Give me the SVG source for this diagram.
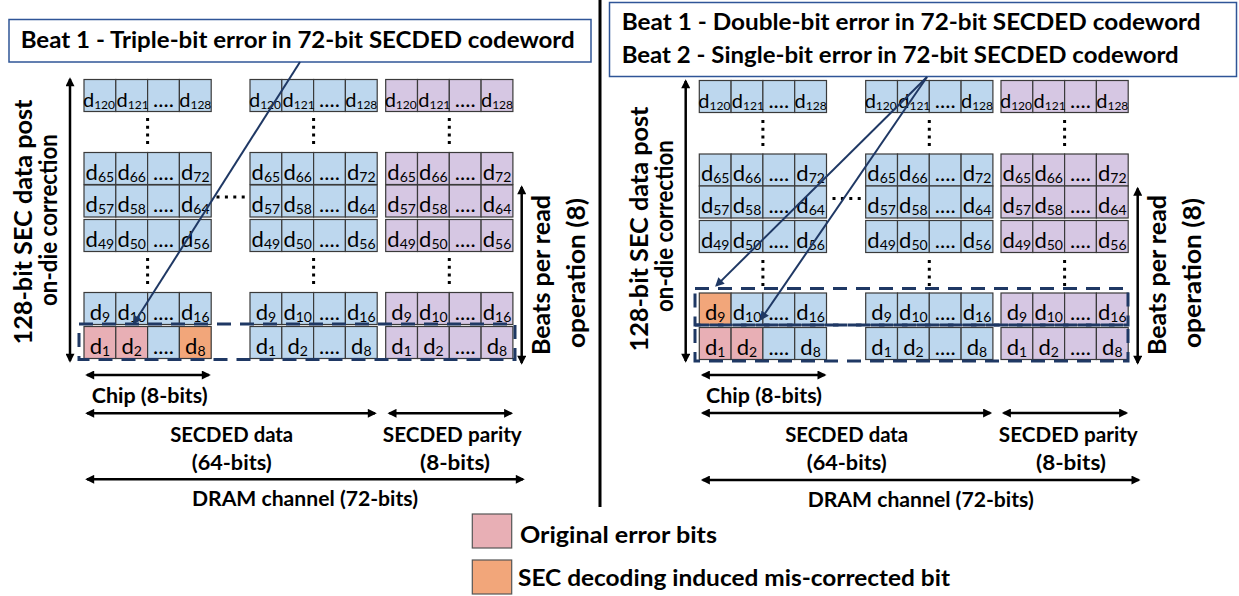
<svg xmlns="http://www.w3.org/2000/svg" width="1239" height="596" viewBox="0 0 1239 596">
<style>
.chip rect{stroke:#3a3a3a;stroke-width:1.2}
.b{fill:#bdd7ee}.p{fill:#d6c7e3}.e{fill:#e8afb5}.o{fill:#f2a67a}
.chip text{font-family:Lato,"Liberation Sans",sans-serif;font-size:22px;text-anchor:middle;fill:#000}
.chip text.t3{font-size:20px}
.s{font-size:14px}
.chip text.t3 .s{font-size:12px}
.lbl{font-family:Lato,"Liberation Sans",sans-serif;font-weight:bold;font-size:21px;fill:#000}
.mid{text-anchor:middle}
.rot{font-size:24px;text-anchor:middle}
.ttl{font-size:22px}
.ar{stroke:#000;stroke-width:2.5;fill:none;marker-start:url(#ah);marker-end:url(#ah)}
.nv{stroke:#1f3864;stroke-width:2;fill:none;marker-end:url(#nh)}
.dash{fill:none;stroke:#1f3864;stroke-width:3;stroke-dasharray:14 9}
.dots{stroke:#000;stroke-width:3;stroke-dasharray:3 4.7}
.hdots{stroke:#000;stroke-width:3;stroke-dasharray:3 5.4}
.box{fill:#fff;stroke:#2f5597;stroke-width:1.5}
</style>
<defs>
<marker id="ah" viewBox="0 0 10 10" refX="8" refY="5" markerWidth="11" markerHeight="9" markerUnits="userSpaceOnUse" orient="auto-start-reverse"><path d="M0,0 L10,5 L0,10 z" fill="#000"/></marker>
<marker id="nh" viewBox="0 0 10 10" refX="8" refY="5" markerWidth="11" markerHeight="9" markerUnits="userSpaceOnUse" orient="auto"><path d="M0,0 L10,5 L0,10 z" fill="#1f3864"/></marker>
</defs>
<rect width="1239" height="596" fill="#fff"/>

<!-- Left panel -->
<g id="left-title"><rect class="box" x="9" y="19.5" width="582" height="42.5"/><text class="lbl ttl" x="20.7" y="48" textLength="554" lengthAdjust="spacingAndGlyphs">Beat 1 - Triple-bit error in 72-bit SECDED codeword</text></g>

<g id="left-chip1" class="chip" transform="translate(84,0)">
<g transform="translate(0,79.5)"><rect class="b" x="0" width="31.8" height="32"/><rect class="b" x="31.8" width="31.8" height="32"/><rect class="b" x="63.6" width="31.8" height="32"/><rect class="b" x="95.4" width="31.8" height="32"/><text class="t3" x="15" y="27">d<tspan class="s" dy="2">120</tspan></text><text class="t3" x="48.6" y="27">d<tspan class="s" dy="2">121</tspan></text><text x="79.5" y="27">....</text><text class="t3" x="111.3" y="27">d<tspan class="s" dy="2">128</tspan></text></g>
<g transform="translate(0,152.5)"><rect class="b" x="0" width="31.8" height="32"/><rect class="b" x="31.8" width="31.8" height="32"/><rect class="b" x="63.6" width="31.8" height="32"/><rect class="b" x="95.4" width="31.8" height="32"/><text x="15.9" y="27">d<tspan class="s" dy="2">65</tspan></text><text x="47.7" y="27">d<tspan class="s" dy="2">66</tspan></text><text x="79.5" y="27">....</text><text x="111.3" y="27">d<tspan class="s" dy="2">72</tspan></text></g>
<g transform="translate(0,185)"><rect class="b" x="0" width="31.8" height="32"/><rect class="b" x="31.8" width="31.8" height="32"/><rect class="b" x="63.6" width="31.8" height="32"/><rect class="b" x="95.4" width="31.8" height="32"/><text x="15.9" y="27">d<tspan class="s" dy="2">57</tspan></text><text x="47.7" y="27">d<tspan class="s" dy="2">58</tspan></text><text x="79.5" y="27">....</text><text x="111.3" y="27">d<tspan class="s" dy="2">64</tspan></text></g>
<g transform="translate(0,219.5)"><rect class="b" x="0" width="31.8" height="32"/><rect class="b" x="31.8" width="31.8" height="32"/><rect class="b" x="63.6" width="31.8" height="32"/><rect class="b" x="95.4" width="31.8" height="32"/><text x="15.9" y="27">d<tspan class="s" dy="2">49</tspan></text><text x="47.7" y="27">d<tspan class="s" dy="2">50</tspan></text><text x="79.5" y="27">....</text><text x="111.3" y="27">d<tspan class="s" dy="2">56</tspan></text></g>
<g transform="translate(0,292.5)"><rect class="b" x="0" width="31.8" height="32"/><rect class="b" x="31.8" width="31.8" height="32"/><rect class="b" x="63.6" width="31.8" height="32"/><rect class="b" x="95.4" width="31.8" height="32"/><text x="15.9" y="27">d<tspan class="s" dy="2">9</tspan></text><text x="47.7" y="27">d<tspan class="s" dy="2">10</tspan></text><text x="79.5" y="27">....</text><text x="111.3" y="27">d<tspan class="s" dy="2">16</tspan></text></g>
<g transform="translate(0,326.5)"><rect class="e" x="0" width="31.8" height="32"/><rect class="e" x="31.8" width="31.8" height="32"/><rect class="b" x="63.6" width="31.8" height="32"/><rect class="o" x="95.4" width="31.8" height="32"/><text x="15.9" y="27">d<tspan class="s" dy="2">1</tspan></text><text x="47.7" y="27">d<tspan class="s" dy="2">2</tspan></text><text x="79.5" y="27">....</text><text x="111.3" y="27">d<tspan class="s" dy="2">8</tspan></text></g>
</g>

<g id="left-chip2" class="chip" transform="translate(250,0)">
<g transform="translate(0,79.5)"><rect class="b" x="0" width="31.8" height="32"/><rect class="b" x="31.8" width="31.8" height="32"/><rect class="b" x="63.6" width="31.8" height="32"/><rect class="b" x="95.4" width="31.8" height="32"/><text class="t3" x="15" y="27">d<tspan class="s" dy="2">120</tspan></text><text class="t3" x="48.6" y="27">d<tspan class="s" dy="2">121</tspan></text><text x="79.5" y="27">....</text><text class="t3" x="111.3" y="27">d<tspan class="s" dy="2">128</tspan></text></g>
<g transform="translate(0,152.5)"><rect class="b" x="0" width="31.8" height="32"/><rect class="b" x="31.8" width="31.8" height="32"/><rect class="b" x="63.6" width="31.8" height="32"/><rect class="b" x="95.4" width="31.8" height="32"/><text x="15.9" y="27">d<tspan class="s" dy="2">65</tspan></text><text x="47.7" y="27">d<tspan class="s" dy="2">66</tspan></text><text x="79.5" y="27">....</text><text x="111.3" y="27">d<tspan class="s" dy="2">72</tspan></text></g>
<g transform="translate(0,185)"><rect class="b" x="0" width="31.8" height="32"/><rect class="b" x="31.8" width="31.8" height="32"/><rect class="b" x="63.6" width="31.8" height="32"/><rect class="b" x="95.4" width="31.8" height="32"/><text x="15.9" y="27">d<tspan class="s" dy="2">57</tspan></text><text x="47.7" y="27">d<tspan class="s" dy="2">58</tspan></text><text x="79.5" y="27">....</text><text x="111.3" y="27">d<tspan class="s" dy="2">64</tspan></text></g>
<g transform="translate(0,219.5)"><rect class="b" x="0" width="31.8" height="32"/><rect class="b" x="31.8" width="31.8" height="32"/><rect class="b" x="63.6" width="31.8" height="32"/><rect class="b" x="95.4" width="31.8" height="32"/><text x="15.9" y="27">d<tspan class="s" dy="2">49</tspan></text><text x="47.7" y="27">d<tspan class="s" dy="2">50</tspan></text><text x="79.5" y="27">....</text><text x="111.3" y="27">d<tspan class="s" dy="2">56</tspan></text></g>
<g transform="translate(0,292.5)"><rect class="b" x="0" width="31.8" height="32"/><rect class="b" x="31.8" width="31.8" height="32"/><rect class="b" x="63.6" width="31.8" height="32"/><rect class="b" x="95.4" width="31.8" height="32"/><text x="15.9" y="27">d<tspan class="s" dy="2">9</tspan></text><text x="47.7" y="27">d<tspan class="s" dy="2">10</tspan></text><text x="79.5" y="27">....</text><text x="111.3" y="27">d<tspan class="s" dy="2">16</tspan></text></g>
<g transform="translate(0,326.5)"><rect class="b" x="0" width="31.8" height="32"/><rect class="b" x="31.8" width="31.8" height="32"/><rect class="b" x="63.6" width="31.8" height="32"/><rect class="b" x="95.4" width="31.8" height="32"/><text x="15.9" y="27">d<tspan class="s" dy="2">1</tspan></text><text x="47.7" y="27">d<tspan class="s" dy="2">2</tspan></text><text x="79.5" y="27">....</text><text x="111.3" y="27">d<tspan class="s" dy="2">8</tspan></text></g>
</g>

<g id="left-parity" class="chip" transform="translate(385.7,0)">
<g transform="translate(0,79.5)"><rect class="p" x="0" width="31.8" height="32"/><rect class="p" x="31.8" width="31.8" height="32"/><rect class="p" x="63.6" width="31.8" height="32"/><rect class="p" x="95.4" width="31.8" height="32"/><text class="t3" x="15" y="27">d<tspan class="s" dy="2">120</tspan></text><text class="t3" x="48.6" y="27">d<tspan class="s" dy="2">121</tspan></text><text x="79.5" y="27">....</text><text class="t3" x="111.3" y="27">d<tspan class="s" dy="2">128</tspan></text></g>
<g transform="translate(0,152.5)"><rect class="p" x="0" width="31.8" height="32"/><rect class="p" x="31.8" width="31.8" height="32"/><rect class="p" x="63.6" width="31.8" height="32"/><rect class="p" x="95.4" width="31.8" height="32"/><text x="15.9" y="27">d<tspan class="s" dy="2">65</tspan></text><text x="47.7" y="27">d<tspan class="s" dy="2">66</tspan></text><text x="79.5" y="27">....</text><text x="111.3" y="27">d<tspan class="s" dy="2">72</tspan></text></g>
<g transform="translate(0,185)"><rect class="p" x="0" width="31.8" height="32"/><rect class="p" x="31.8" width="31.8" height="32"/><rect class="p" x="63.6" width="31.8" height="32"/><rect class="p" x="95.4" width="31.8" height="32"/><text x="15.9" y="27">d<tspan class="s" dy="2">57</tspan></text><text x="47.7" y="27">d<tspan class="s" dy="2">58</tspan></text><text x="79.5" y="27">....</text><text x="111.3" y="27">d<tspan class="s" dy="2">64</tspan></text></g>
<g transform="translate(0,219.5)"><rect class="p" x="0" width="31.8" height="32"/><rect class="p" x="31.8" width="31.8" height="32"/><rect class="p" x="63.6" width="31.8" height="32"/><rect class="p" x="95.4" width="31.8" height="32"/><text x="15.9" y="27">d<tspan class="s" dy="2">49</tspan></text><text x="47.7" y="27">d<tspan class="s" dy="2">50</tspan></text><text x="79.5" y="27">....</text><text x="111.3" y="27">d<tspan class="s" dy="2">56</tspan></text></g>
<g transform="translate(0,292.5)"><rect class="p" x="0" width="31.8" height="32"/><rect class="p" x="31.8" width="31.8" height="32"/><rect class="p" x="63.6" width="31.8" height="32"/><rect class="p" x="95.4" width="31.8" height="32"/><text x="15.9" y="27">d<tspan class="s" dy="2">9</tspan></text><text x="47.7" y="27">d<tspan class="s" dy="2">10</tspan></text><text x="79.5" y="27">....</text><text x="111.3" y="27">d<tspan class="s" dy="2">16</tspan></text></g>
<g transform="translate(0,326.5)"><rect class="p" x="0" width="31.8" height="32"/><rect class="p" x="31.8" width="31.8" height="32"/><rect class="p" x="63.6" width="31.8" height="32"/><rect class="p" x="95.4" width="31.8" height="32"/><text x="15.9" y="27">d<tspan class="s" dy="2">1</tspan></text><text x="47.7" y="27">d<tspan class="s" dy="2">2</tspan></text><text x="79.5" y="27">....</text><text x="111.3" y="27">d<tspan class="s" dy="2">8</tspan></text></g>
</g>

<g id="left-dots">
<line class="dots" x1="147.6" y1="118" x2="147.6" y2="145"/><line class="dots" x1="147.6" y1="258" x2="147.6" y2="285"/>
<line class="dots" x1="313.6" y1="118" x2="313.6" y2="145"/><line class="dots" x1="313.6" y1="258" x2="313.6" y2="285"/>
<line class="dots" x1="449.3" y1="118" x2="449.3" y2="145"/><line class="dots" x1="449.3" y1="258" x2="449.3" y2="285"/>
<line class="hdots" x1="216.5" y1="197" x2="245" y2="197"/>
</g>

<g id="left-labels" class="lbl">
<text class="rot" transform="translate(32,222) rotate(-90)" textLength="245" lengthAdjust="spacingAndGlyphs">128-bit SEC data post</text>
<text class="rot" transform="translate(57,220) rotate(-90)" textLength="172" lengthAdjust="spacingAndGlyphs">on-die correction</text>
<text class="rot" transform="translate(550,275) rotate(-90)" textLength="160" lengthAdjust="spacingAndGlyphs">Beats per read</text>
<text class="rot" transform="translate(585,273) rotate(-90)" textLength="150" lengthAdjust="spacingAndGlyphs">operation (8)</text>
<text x="91.7" y="403" textLength="116" lengthAdjust="spacingAndGlyphs">Chip (8-bits)</text>
<text class="mid" x="231.7" y="441.5" textLength="123" lengthAdjust="spacingAndGlyphs">SECDED data</text>
<text class="mid" x="231.7" y="470" textLength="80" lengthAdjust="spacingAndGlyphs">(64-bits)</text>
<text class="mid" x="452.3" y="441.5" textLength="139" lengthAdjust="spacingAndGlyphs">SECDED parity</text>
<text class="mid" x="455" y="470" textLength="70" lengthAdjust="spacingAndGlyphs">(8-bits)</text>
<text class="mid" x="305" y="506" textLength="226" lengthAdjust="spacingAndGlyphs">DRAM channel (72-bits)</text>
</g>

<!-- Right panel -->
<g id="right-title"><rect class="box" x="609.5" y="2.5" width="627" height="74"/>
<text class="lbl ttl" x="621.7" y="29.5" textLength="579" lengthAdjust="spacingAndGlyphs">Beat 1 - Double-bit error in 72-bit SECDED codeword</text>
<text class="lbl ttl" x="621.7" y="62.5" textLength="557" lengthAdjust="spacingAndGlyphs">Beat 2 - Single-bit error in 72-bit SECDED codeword</text></g>

<g id="right-chip1" class="chip" transform="translate(699.3,0)">
<g transform="translate(0,80.5)"><rect class="b" x="0" width="31.8" height="32"/><rect class="b" x="31.8" width="31.8" height="32"/><rect class="b" x="63.6" width="31.8" height="32"/><rect class="b" x="95.4" width="31.8" height="32"/><text class="t3" x="15" y="27">d<tspan class="s" dy="2">120</tspan></text><text class="t3" x="48.6" y="27">d<tspan class="s" dy="2">121</tspan></text><text x="79.5" y="27">....</text><text class="t3" x="111.3" y="27">d<tspan class="s" dy="2">128</tspan></text></g>
<g transform="translate(0,154)"><rect class="b" x="0" width="31.8" height="32"/><rect class="b" x="31.8" width="31.8" height="32"/><rect class="b" x="63.6" width="31.8" height="32"/><rect class="b" x="95.4" width="31.8" height="32"/><text x="15.9" y="27">d<tspan class="s" dy="2">65</tspan></text><text x="47.7" y="27">d<tspan class="s" dy="2">66</tspan></text><text x="79.5" y="27">....</text><text x="111.3" y="27">d<tspan class="s" dy="2">72</tspan></text></g>
<g transform="translate(0,186)"><rect class="b" x="0" width="31.8" height="32"/><rect class="b" x="31.8" width="31.8" height="32"/><rect class="b" x="63.6" width="31.8" height="32"/><rect class="b" x="95.4" width="31.8" height="32"/><text x="15.9" y="27">d<tspan class="s" dy="2">57</tspan></text><text x="47.7" y="27">d<tspan class="s" dy="2">58</tspan></text><text x="79.5" y="27">....</text><text x="111.3" y="27">d<tspan class="s" dy="2">64</tspan></text></g>
<g transform="translate(0,220.5)"><rect class="b" x="0" width="31.8" height="32"/><rect class="b" x="31.8" width="31.8" height="32"/><rect class="b" x="63.6" width="31.8" height="32"/><rect class="b" x="95.4" width="31.8" height="32"/><text x="15.9" y="27">d<tspan class="s" dy="2">49</tspan></text><text x="47.7" y="27">d<tspan class="s" dy="2">50</tspan></text><text x="79.5" y="27">....</text><text x="111.3" y="27">d<tspan class="s" dy="2">56</tspan></text></g>
<g transform="translate(0,293)"><rect class="o" x="0" width="31.8" height="32"/><rect class="b" x="31.8" width="31.8" height="32"/><rect class="b" x="63.6" width="31.8" height="32"/><rect class="b" x="95.4" width="31.8" height="32"/><text x="15.9" y="27">d<tspan class="s" dy="2">9</tspan></text><text x="47.7" y="27">d<tspan class="s" dy="2">10</tspan></text><text x="79.5" y="27">....</text><text x="111.3" y="27">d<tspan class="s" dy="2">16</tspan></text></g>
<g transform="translate(0,327.5)"><rect class="e" x="0" width="31.8" height="32"/><rect class="e" x="31.8" width="31.8" height="32"/><rect class="b" x="63.6" width="31.8" height="32"/><rect class="b" x="95.4" width="31.8" height="32"/><text x="15.9" y="27">d<tspan class="s" dy="2">1</tspan></text><text x="47.7" y="27">d<tspan class="s" dy="2">2</tspan></text><text x="79.5" y="27">....</text><text x="111.3" y="27">d<tspan class="s" dy="2">8</tspan></text></g>
</g>

<g id="right-chip2" class="chip" transform="translate(865.7,0)">
<g transform="translate(0,80.5)"><rect class="b" x="0" width="31.8" height="32"/><rect class="b" x="31.8" width="31.8" height="32"/><rect class="b" x="63.6" width="31.8" height="32"/><rect class="b" x="95.4" width="31.8" height="32"/><text class="t3" x="15" y="27">d<tspan class="s" dy="2">120</tspan></text><text class="t3" x="48.6" y="27">d<tspan class="s" dy="2">121</tspan></text><text x="79.5" y="27">....</text><text class="t3" x="111.3" y="27">d<tspan class="s" dy="2">128</tspan></text></g>
<g transform="translate(0,154)"><rect class="b" x="0" width="31.8" height="32"/><rect class="b" x="31.8" width="31.8" height="32"/><rect class="b" x="63.6" width="31.8" height="32"/><rect class="b" x="95.4" width="31.8" height="32"/><text x="15.9" y="27">d<tspan class="s" dy="2">65</tspan></text><text x="47.7" y="27">d<tspan class="s" dy="2">66</tspan></text><text x="79.5" y="27">....</text><text x="111.3" y="27">d<tspan class="s" dy="2">72</tspan></text></g>
<g transform="translate(0,186)"><rect class="b" x="0" width="31.8" height="32"/><rect class="b" x="31.8" width="31.8" height="32"/><rect class="b" x="63.6" width="31.8" height="32"/><rect class="b" x="95.4" width="31.8" height="32"/><text x="15.9" y="27">d<tspan class="s" dy="2">57</tspan></text><text x="47.7" y="27">d<tspan class="s" dy="2">58</tspan></text><text x="79.5" y="27">....</text><text x="111.3" y="27">d<tspan class="s" dy="2">64</tspan></text></g>
<g transform="translate(0,220.5)"><rect class="b" x="0" width="31.8" height="32"/><rect class="b" x="31.8" width="31.8" height="32"/><rect class="b" x="63.6" width="31.8" height="32"/><rect class="b" x="95.4" width="31.8" height="32"/><text x="15.9" y="27">d<tspan class="s" dy="2">49</tspan></text><text x="47.7" y="27">d<tspan class="s" dy="2">50</tspan></text><text x="79.5" y="27">....</text><text x="111.3" y="27">d<tspan class="s" dy="2">56</tspan></text></g>
<g transform="translate(0,293)"><rect class="b" x="0" width="31.8" height="32"/><rect class="b" x="31.8" width="31.8" height="32"/><rect class="b" x="63.6" width="31.8" height="32"/><rect class="b" x="95.4" width="31.8" height="32"/><text x="15.9" y="27">d<tspan class="s" dy="2">9</tspan></text><text x="47.7" y="27">d<tspan class="s" dy="2">10</tspan></text><text x="79.5" y="27">....</text><text x="111.3" y="27">d<tspan class="s" dy="2">16</tspan></text></g>
<g transform="translate(0,327.5)"><rect class="b" x="0" width="31.8" height="32"/><rect class="b" x="31.8" width="31.8" height="32"/><rect class="b" x="63.6" width="31.8" height="32"/><rect class="b" x="95.4" width="31.8" height="32"/><text x="15.9" y="27">d<tspan class="s" dy="2">1</tspan></text><text x="47.7" y="27">d<tspan class="s" dy="2">2</tspan></text><text x="79.5" y="27">....</text><text x="111.3" y="27">d<tspan class="s" dy="2">8</tspan></text></g>
</g>

<g id="right-parity" class="chip" transform="translate(1001,0)">
<g transform="translate(0,80.5)"><rect class="p" x="0" width="31.8" height="32"/><rect class="p" x="31.8" width="31.8" height="32"/><rect class="p" x="63.6" width="31.8" height="32"/><rect class="p" x="95.4" width="31.8" height="32"/><text class="t3" x="15" y="27">d<tspan class="s" dy="2">120</tspan></text><text class="t3" x="48.6" y="27">d<tspan class="s" dy="2">121</tspan></text><text x="79.5" y="27">....</text><text class="t3" x="111.3" y="27">d<tspan class="s" dy="2">128</tspan></text></g>
<g transform="translate(0,154)"><rect class="p" x="0" width="31.8" height="32"/><rect class="p" x="31.8" width="31.8" height="32"/><rect class="p" x="63.6" width="31.8" height="32"/><rect class="p" x="95.4" width="31.8" height="32"/><text x="15.9" y="27">d<tspan class="s" dy="2">65</tspan></text><text x="47.7" y="27">d<tspan class="s" dy="2">66</tspan></text><text x="79.5" y="27">....</text><text x="111.3" y="27">d<tspan class="s" dy="2">72</tspan></text></g>
<g transform="translate(0,186)"><rect class="p" x="0" width="31.8" height="32"/><rect class="p" x="31.8" width="31.8" height="32"/><rect class="p" x="63.6" width="31.8" height="32"/><rect class="p" x="95.4" width="31.8" height="32"/><text x="15.9" y="27">d<tspan class="s" dy="2">57</tspan></text><text x="47.7" y="27">d<tspan class="s" dy="2">58</tspan></text><text x="79.5" y="27">....</text><text x="111.3" y="27">d<tspan class="s" dy="2">64</tspan></text></g>
<g transform="translate(0,220.5)"><rect class="p" x="0" width="31.8" height="32"/><rect class="p" x="31.8" width="31.8" height="32"/><rect class="p" x="63.6" width="31.8" height="32"/><rect class="p" x="95.4" width="31.8" height="32"/><text x="15.9" y="27">d<tspan class="s" dy="2">49</tspan></text><text x="47.7" y="27">d<tspan class="s" dy="2">50</tspan></text><text x="79.5" y="27">....</text><text x="111.3" y="27">d<tspan class="s" dy="2">56</tspan></text></g>
<g transform="translate(0,293)"><rect class="p" x="0" width="31.8" height="32"/><rect class="p" x="31.8" width="31.8" height="32"/><rect class="p" x="63.6" width="31.8" height="32"/><rect class="p" x="95.4" width="31.8" height="32"/><text x="15.9" y="27">d<tspan class="s" dy="2">9</tspan></text><text x="47.7" y="27">d<tspan class="s" dy="2">10</tspan></text><text x="79.5" y="27">....</text><text x="111.3" y="27">d<tspan class="s" dy="2">16</tspan></text></g>
<g transform="translate(0,327.5)"><rect class="p" x="0" width="31.8" height="32"/><rect class="p" x="31.8" width="31.8" height="32"/><rect class="p" x="63.6" width="31.8" height="32"/><rect class="p" x="95.4" width="31.8" height="32"/><text x="15.9" y="27">d<tspan class="s" dy="2">1</tspan></text><text x="47.7" y="27">d<tspan class="s" dy="2">2</tspan></text><text x="79.5" y="27">....</text><text x="111.3" y="27">d<tspan class="s" dy="2">8</tspan></text></g>
</g>

<g id="right-dots">
<line class="dots" x1="762.9" y1="120" x2="762.9" y2="147"/><line class="dots" x1="762.9" y1="260" x2="762.9" y2="287"/>
<line class="dots" x1="929.3" y1="120" x2="929.3" y2="147"/><line class="dots" x1="929.3" y1="260" x2="929.3" y2="287"/>
<line class="dots" x1="1064.6" y1="120" x2="1064.6" y2="147"/><line class="dots" x1="1064.6" y1="260" x2="1064.6" y2="287"/>
<line class="hdots" x1="832.5" y1="198.5" x2="861" y2="198.5"/>
</g>

<g id="right-labels" class="lbl">
<text class="rot" transform="translate(648,229) rotate(-90)" textLength="245" lengthAdjust="spacingAndGlyphs">128-bit SEC data post</text>
<text class="rot" transform="translate(673,226) rotate(-90)" textLength="172" lengthAdjust="spacingAndGlyphs">on-die correction</text>
<text class="rot" transform="translate(1166,275) rotate(-90)" textLength="160" lengthAdjust="spacingAndGlyphs">Beats per read</text>
<text class="rot" transform="translate(1201,273) rotate(-90)" textLength="150" lengthAdjust="spacingAndGlyphs">operation (8)</text>
<text x="706" y="403" textLength="116" lengthAdjust="spacingAndGlyphs">Chip (8-bits)</text>
<text class="mid" x="846.7" y="441.5" textLength="123" lengthAdjust="spacingAndGlyphs">SECDED data</text>
<text class="mid" x="846.7" y="470" textLength="80" lengthAdjust="spacingAndGlyphs">(64-bits)</text>
<text class="mid" x="1068.3" y="441.5" textLength="139" lengthAdjust="spacingAndGlyphs">SECDED parity</text>
<text class="mid" x="1071" y="470" textLength="70" lengthAdjust="spacingAndGlyphs">(8-bits)</text>
<text class="mid" x="920.7" y="507" textLength="226" lengthAdjust="spacingAndGlyphs">DRAM channel (72-bits)</text>
</g>

<g id="highlights">
<rect class="dash" x="79" y="324" width="436" height="35.5"/>
<rect class="dash" x="695" y="288.5" width="433" height="36.5"/>
<rect class="dash" x="695" y="325" width="433" height="36"/>
</g>

<g id="legend">
<rect x="472.3" y="514" width="39.4" height="34" fill="#e8afb5" stroke="#555" stroke-width="1.2"/>
<text class="lbl ttl" x="520" y="543" textLength="197" lengthAdjust="spacingAndGlyphs">Original error bits</text>
<rect x="472.3" y="560" width="39.4" height="34" fill="#f2a67a" stroke="#555" stroke-width="1.2"/>
<text class="lbl ttl" x="518" y="586" textLength="432" lengthAdjust="spacingAndGlyphs">SEC decoding induced mis-corrected bit</text>
</g>

<g id="connectors">
<line x1="600" y1="0" x2="600" y2="507" stroke="#000" stroke-width="3"/>
<line class="ar" x1="70" y1="79" x2="70" y2="361"/>
<line class="ar" x1="521.7" y1="187" x2="521.7" y2="363"/>
<line class="ar" x1="87" y1="375" x2="209" y2="375"/>
<line class="ar" x1="87" y1="413.3" x2="375" y2="413.3"/>
<line class="ar" x1="389.3" y1="413.3" x2="511.3" y2="413.3"/>
<line class="ar" x1="87" y1="479.3" x2="523" y2="479.3"/>
<line class="ar" x1="685.7" y1="81" x2="685.7" y2="361"/>
<line class="ar" x1="1137.7" y1="188.5" x2="1137.7" y2="363"/>
<line class="ar" x1="702.7" y1="375" x2="824.7" y2="375"/>
<line class="ar" x1="702.7" y1="413" x2="990.3" y2="413"/>
<line class="ar" x1="1003.7" y1="413" x2="1126.3" y2="413"/>
<line class="ar" x1="702.7" y1="480" x2="1138.7" y2="480"/>
<line class="nv" x1="300" y1="62" x2="133.9" y2="323.3"/>
<line class="nv" x1="927" y1="77" x2="716.4" y2="285.6"/>
<line class="nv" x1="927" y1="77" x2="761.1" y2="319.1"/>
</g>
</svg>
